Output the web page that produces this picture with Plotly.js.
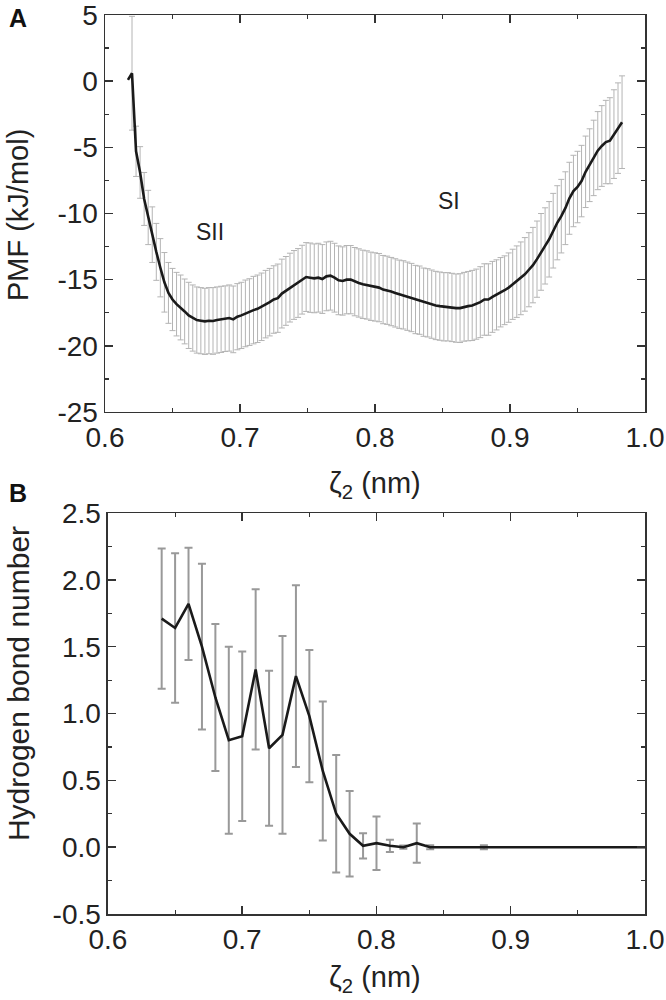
<!DOCTYPE html>
<html>
<head>
<meta charset="utf-8">
<script src="https://cdn.plot.ly/plotly-3.0.1.min.js"></script>
<style>html,body{margin:0;padding:0;background:#fff;}#chart{width:666px;height:1000px;}</style>
</head>
<body>
<div id="chart"></div>
<script>
// Panel A: PMF vs zeta2
var pmfX = [
0.617,0.620,0.623,0.626,0.629,0.632,0.635,0.638,0.641,0.644,
0.647,0.650,0.653,0.656,0.659,0.662,0.665,0.668,0.671,0.674,
0.677,0.680,0.683,0.686,0.689,0.692,0.695,0.698,0.701,0.704,
0.707,0.710,0.713,0.716,0.719,0.722,0.725,0.728,0.731,0.734,
0.737,0.740,0.743,0.746,0.749,0.752,0.755,0.758,0.761,0.764,
0.767,0.770,0.773,0.776,0.779,0.782,0.785,0.788,0.791,0.794,
0.797,0.800,0.803,0.806,0.809,0.812,0.815,0.818,0.821,0.824,
0.827,0.830,0.833,0.836,0.839,0.842,0.845,0.848,0.851,0.854,
0.857,0.860,0.863,0.866,0.869,0.872,0.875,0.878,0.881,0.884,
0.887,0.890,0.893,0.896,0.899,0.902,0.905,0.908,0.911,0.914,
0.917,0.920,0.923,0.926,0.929,0.932,0.935,0.938,0.941,0.944,
0.947,0.950,0.953,0.956,0.959,0.962,0.965,0.968,0.971,0.974,
0.977,0.980,0.983];
var pmfY = [
0.1,0.6,-5.3,-6.9,-8.9,-10.3,-11.6,-12.9,-14.1,-15.2,
-16.0,-16.5,-16.85,-17.1,-17.4,-17.7,-17.9,-18.05,-18.1,-18.15,
-18.1,-18.12,-18.05,-18.0,-17.95,-17.9,-18.0,-17.8,-17.7,-17.55,
-17.45,-17.3,-17.2,-17.05,-16.85,-16.7,-16.5,-16.4,-16.05,-15.85,
-15.6,-15.4,-15.25,-15.0,-14.8,-14.85,-14.9,-14.85,-14.95,-14.75,
-14.7,-14.85,-15.05,-15.1,-15.0,-15.0,-15.15,-15.25,-15.35,-15.4,
-15.5,-15.55,-15.6,-15.75,-15.8,-15.9,-16.0,-16.1,-16.15,-16.25,
-16.35,-16.5,-16.55,-16.7,-16.75,-16.85,-16.95,-17.0,-17.05,-17.05,
-17.1,-17.15,-17.15,-17.05,-17.0,-16.95,-16.85,-16.7,-16.5,-16.5,
-16.3,-16.15,-15.95,-15.8,-15.6,-15.35,-15.15,-14.9,-14.6,-14.25,
-13.9,-13.45,-12.9,-12.45,-11.95,-11.3,-10.7,-10.2,-9.6,-8.85,
-8.3,-8.0,-7.55,-6.85,-6.35,-5.8,-5.25,-4.9,-4.6,-4.5,
-4.0,-3.55,-3.1];
var pmfErr = [
null,4.3,1.9,1.95,2.0,2.05,2.1,2.15,2.2,2.25,
2.3,2.35,2.4,2.45,2.45,2.5,2.5,2.5,2.5,2.5,
2.5,2.52,2.5,2.5,2.48,2.5,2.52,2.5,2.5,2.52,
2.52,2.55,2.55,2.55,2.55,2.55,2.55,2.58,2.6,2.6,
2.6,2.6,2.6,2.6,2.6,2.62,2.6,2.6,2.6,2.6,
2.6,2.6,2.6,2.58,2.58,2.58,2.58,2.58,2.58,2.58,
2.58,2.58,2.58,2.58,2.58,2.58,2.58,2.58,2.58,2.58,
2.58,2.58,2.58,2.58,2.58,2.58,2.58,2.58,2.58,2.58,
2.58,2.58,2.6,2.6,2.62,2.65,2.65,2.68,2.7,2.7,
2.68,2.65,2.62,2.6,2.62,2.65,2.7,2.75,2.78,2.8,
2.85,2.88,2.9,2.88,2.85,2.82,2.8,2.78,2.75,2.72,
2.7,2.7,2.7,2.7,2.75,2.85,2.95,3.05,3.15,3.25,
3.35,3.42,3.5];

// Panel B: hydrogen bond number vs zeta2
var hbX = [0.64,0.65,0.66,0.67,0.68,0.69,0.70,0.71,0.72,0.73,0.74,0.75,0.76,0.77,0.78,0.79,0.80,0.81,0.82,0.83,0.84,0.85,0.86,0.87,0.88,0.89,0.90,0.91,0.92,0.93,0.94,0.95,0.96,0.97,0.98,0.99,1.00];
var hbY = [1.71,1.64,1.82,1.50,1.12,0.80,0.83,1.33,0.74,0.84,1.28,0.98,0.57,0.25,0.10,0.01,0.03,0.01,0.00,0.03,0.00,0.00,0.00,0.00,0.00,0.00,0.00,0.00,0.00,0.00,0.00,0.00,0.00,0.00,0.00,0.00,0.00];
var hbErr = [0.525,0.56,0.42,0.62,0.55,0.70,0.635,0.60,0.58,0.74,0.68,0.495,0.52,0.44,0.32,0.095,0.20,0.046,0.012,0.147,0.015,null,null,null,0.015,null,null,null,null,null,null,null,null,null,null,null,null];

// Tick labels
var xTickVals = [0.6,0.7,0.8,0.9,1.0];
var xTickText = ['0.6','0.7','0.8','0.9','1.0'];
var pmfTickVals = [5,0,-5,-10,-15,-20,-25];
var pmfTickText = ['5','0','-5','-10','-15','-20','-25'];
var hbTickVals = [2.5,2.0,1.5,1.0,0.5,0.0,-0.5];
var hbTickText = ['2.5','2.0','1.5','1.0','0.5','0.0','-0.5'];

var panelLabels = ['A','B'];
var yTitles = ['PMF (kJ/mol)','Hydrogen bond number'];
var xTitle = '\u03B6<sub>2</sub> (nm)';
var wellLabels = ['SII','SI'];
var wellX = [0.6776, 0.8547];
var wellY = [-11.4, -9.06];

function nanify(a){ return a.map(function(v){ return v === null ? NaN : v; }); }

var FONT = 'Liberation Sans, Arial, sans-serif';
var AX = '#333333';

var traces = [
  {x: pmfX, y: pmfY, xaxis:'x', yaxis:'y', type:'scatter', mode:'markers',
   marker:{size:2, opacity:0}, hoverinfo:'skip', showlegend:false,
   error_y:{type:'data', array:nanify(pmfErr), symmetric:true, color:'#b4b4b4', thickness:1, width:3}},
  {x: pmfX, y: pmfY, xaxis:'x', yaxis:'y', type:'scatter', mode:'lines',
   line:{color:'#1a1a1a', width:2.6}, showlegend:false},
  {x: hbX, y: hbY, xaxis:'x2', yaxis:'y2', type:'scatter', mode:'markers',
   marker:{size:2, opacity:0}, hoverinfo:'skip', showlegend:false,
   error_y:{type:'data', array:nanify(hbErr), symmetric:true, color:'#999999', thickness:2, width:4}},
  {x: hbX, y: hbY, xaxis:'x2', yaxis:'y2', type:'scatter', mode:'lines',
   line:{color:'#1a1a1a', width:2.6}, showlegend:false}
];

function axisBase(extra){
  var a = {
    showgrid:false, zeroline:false, showline:true, linecolor:AX, linewidth:1.5,
    mirror:'ticks', ticks:'inside', ticklen:8, tickwidth:1.5, tickcolor:AX,
    tickfont:{family:FONT, size:28, color:'#222'}, tickmode:'array',
    ticklabeloverflow:'allow'
  };
  for (var k in extra) a[k] = extra[k];
  return a;
}

var layout = {
  width:666, height:1000,
  margin:{l:105, r:21, t:15, b:86},
  paper_bgcolor:'#fff', plot_bgcolor:'#fff',
  showlegend:false,
  xaxis: axisBase({domain:[0,1], anchor:'y', range:[0.6,1.0], tickvals:xTickVals, ticktext:xTickText,
    minor:{dtick:0.05, tick0:0.6, ticks:'inside', ticklen:4, tickwidth:1.2, tickcolor:AX}}),
  yaxis: axisBase({domain:[0.5584,1], anchor:'x', range:[-25,5], tickvals:pmfTickVals, ticktext:pmfTickText,
    minor:{dtick:2.5, tick0:0, ticks:'inside', ticklen:4, tickwidth:1.2, tickcolor:AX}}),
  xaxis2: axisBase({domain:[0.0055,1], anchor:'y2', range:[0.6,1.0], tickvals:xTickVals, ticktext:xTickText,
    minor:{dtick:0.05, tick0:0.6, ticks:'inside', ticklen:4, tickwidth:1.2, tickcolor:AX}}),
  yaxis2: axisBase({domain:[0,0.446], anchor:'x2', range:[-0.5,2.5], tickvals:hbTickVals, ticktext:hbTickText,
    minor:{dtick:0.25, tick0:0, ticks:'inside', ticklen:4, tickwidth:1.2, tickcolor:AX}}),
  annotations: [
    {text:'<b>'+panelLabels[0]+'</b>', xref:'paper', yref:'paper', x:-0.161, y:0.9967, xanchor:'center', yanchor:'middle', showarrow:false, font:{family:FONT, size:25, color:'#111'}},
    {text:'<b>'+panelLabels[1]+'</b>', xref:'paper', yref:'paper', x:-0.161, y:0.4683, xanchor:'center', yanchor:'middle', showarrow:false, font:{family:FONT, size:25, color:'#111'}},
    {text:yTitles[0], xref:'paper', yref:'paper', x:-0.161, y:0.7775, xanchor:'center', yanchor:'middle', textangle:-90, showarrow:false, font:{family:FONT, size:29, color:'#222'}},
    {text:yTitles[1], xref:'paper', yref:'paper', x:-0.161, y:0.2558, xanchor:'center', yanchor:'middle', textangle:-90, showarrow:false, font:{family:FONT, size:30, color:'#222'}},
    {text:xTitle, xref:'paper', yref:'paper', x:0.5, y:0.4772, xanchor:'center', yanchor:'middle', showarrow:false, font:{family:FONT, size:29, color:'#222'}},
    {text:xTitle, xref:'paper', yref:'paper', x:0.5, y:-0.072, xanchor:'center', yanchor:'middle', showarrow:false, font:{family:FONT, size:29, color:'#222'}},
    {text:wellLabels[0], xref:'x', yref:'y', x:wellX[0], y:wellY[0], xanchor:'center', yanchor:'middle', showarrow:false, font:{family:FONT, size:23, color:'#222'}},
    {text:wellLabels[1], xref:'x', yref:'y', x:wellX[1], y:wellY[1], xanchor:'center', yanchor:'middle', showarrow:false, font:{family:FONT, size:23, color:'#222'}}
  ]
};

Plotly.newPlot('chart', traces, layout, {staticPlot:true, displayModeBar:false});
</script>
</body>
</html>
